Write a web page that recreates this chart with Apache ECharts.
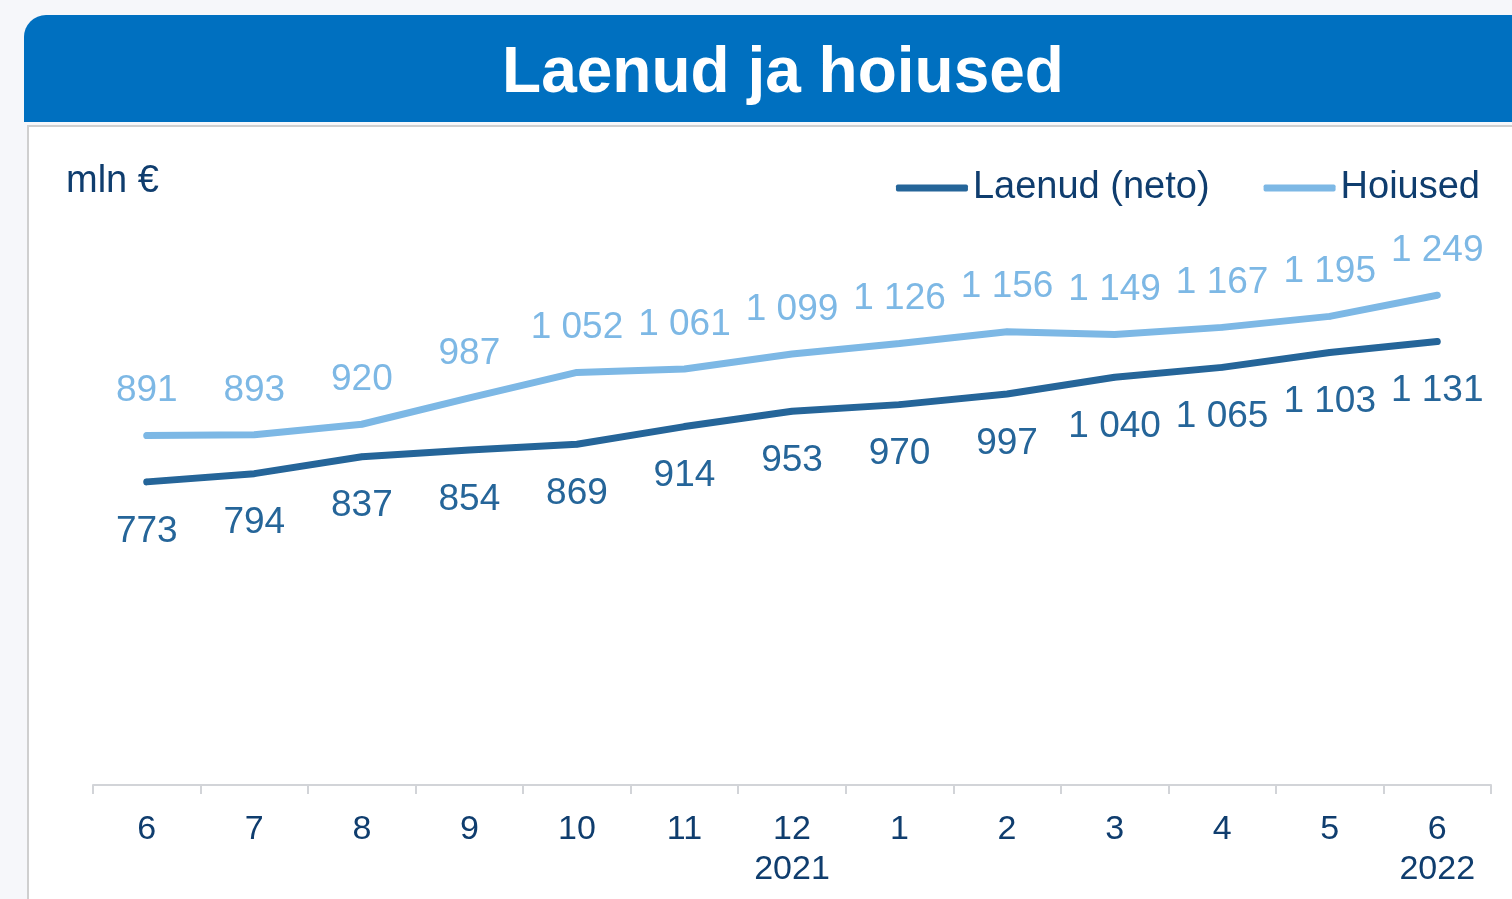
<!DOCTYPE html>
<html>
<head>
<meta charset="utf-8">
<script src="https://cdn.jsdelivr.net/npm/echarts@6/dist/echarts.min.js"></script>
<style>
  html, body { margin: 0; padding: 0; background: #f6f7fa; }
  body { width: 1512px; height: 899px; position: relative; overflow: hidden; font-family: "Liberation Sans", Arial, sans-serif; }
  .head { position: absolute; left: 24px; top: 15px; width: 1500px; height: 107px; background: #0070c0; border-top-left-radius: 22px; }
  .panel { position: absolute; left: 27px; top: 125px; width: 1500px; height: 800px; background: #fff; border: 2px solid #cfcfcf; }
  #chart { position: absolute; left: 0; top: 0; width: 1512px; height: 899px; }
</style>
</head>
<body>
<div class="head"></div>
<div class="panel"></div>
<div id="chart"></div>
<script>
  // kuud ja aastad
  var months = ['6', '7', '8', '9', '10', '11', '12', '1', '2', '3', '4', '5', '6'];
  var years = ['', '', '', '', '', '', '2021', '', '', '', '', '', '2022'];
  // mln €
  var laenud = [773, 794, 837, 854, 869, 914, 953, 970, 997, 1040, 1065, 1103, 1131];
  var hoiused = [891, 893, 920, 987, 1052, 1061, 1099, 1126, 1156, 1149, 1167, 1195, 1249];

  var navy = '#0f3d6e';
  var dark = '#256599';
  var light = '#7db8e5';
  var font = '"Liberation Sans", Arial, sans-serif';

  function fmt(v) {
    return String(v).replace(/\B(?=(\d{3})+(?!\d))/g, ' ');
  }

  var chart = echarts.init(document.getElementById('chart'));
  var option = {
    backgroundColor: 'transparent',
    textStyle: { fontFamily: font },
    title: [
      {
        text: 'Laenud ja hoiused',
        left: 778,
        top: 37,
        textAlign: 'center',
        textStyle: { color: '#fff', fontSize: 64, fontWeight: 'bold', fontFamily: font }
      },
      {
        text: 'mln €',
        left: 61,
        top: 158,
        textStyle: { color: navy, fontSize: 38, fontWeight: 'normal', fontFamily: font }
      }
    ],
    legend: {
      right: 27,
      top: 164,
      icon: 'roundRect',
      itemWidth: 72,
      itemHeight: 7,
      itemGap: 54,
      textStyle: { color: navy, fontSize: 38, fontFamily: font },
      data: ['Laenud (neto)', 'Hoiused']
    },
    grid: { left: 93, right: 21, top: 236, bottom: 114 },
    xAxis: {
      type: 'category',
      data: months,
      boundaryGap: true,
      axisLine: { lineStyle: { color: '#d2d4d8', width: 2 } },
      axisTick: { show: true, length: 9, lineStyle: { color: '#d2d4d8', width: 2 } },
      axisLabel: {
        color: navy,
        fontSize: 34,
        lineHeight: 40,
        margin: 25,
        interval: 0,
        fontFamily: font,
        formatter: function (v, i) {
          return years[i] ? v + '\n' + years[i] : v;
        }
      }
    },
    yAxis: {
      type: 'value',
      min: 0,
      max: 1400,
      show: false
    },
    series: [
      {
        name: 'Laenud (neto)',
        type: 'line',
        data: laenud,
        symbol: 'circle',
        symbolSize: 6,
        showSymbol: true,
        color: dark,
        itemStyle: { color: dark },
        lineStyle: { width: 7, color: dark, cap: 'round' },
        label: {
          show: true,
          position: 'bottom',
          distance: 28,
          color: dark,
          fontSize: 37,
          fontFamily: font,
          formatter: function (p) { return fmt(p.value); }
        }
      },
      {
        name: 'Hoiused',
        type: 'line',
        data: hoiused,
        symbol: 'circle',
        symbolSize: 6,
        showSymbol: true,
        color: light,
        itemStyle: { color: light },
        lineStyle: { width: 7, color: light, cap: 'round' },
        label: {
          show: true,
          position: 'top',
          distance: 23,
          color: light,
          fontSize: 37,
          fontFamily: font,
          formatter: function (p) { return fmt(p.value); }
        }
      }
    ]
  };
  chart.setOption(option);
</script>
</body>
</html>
